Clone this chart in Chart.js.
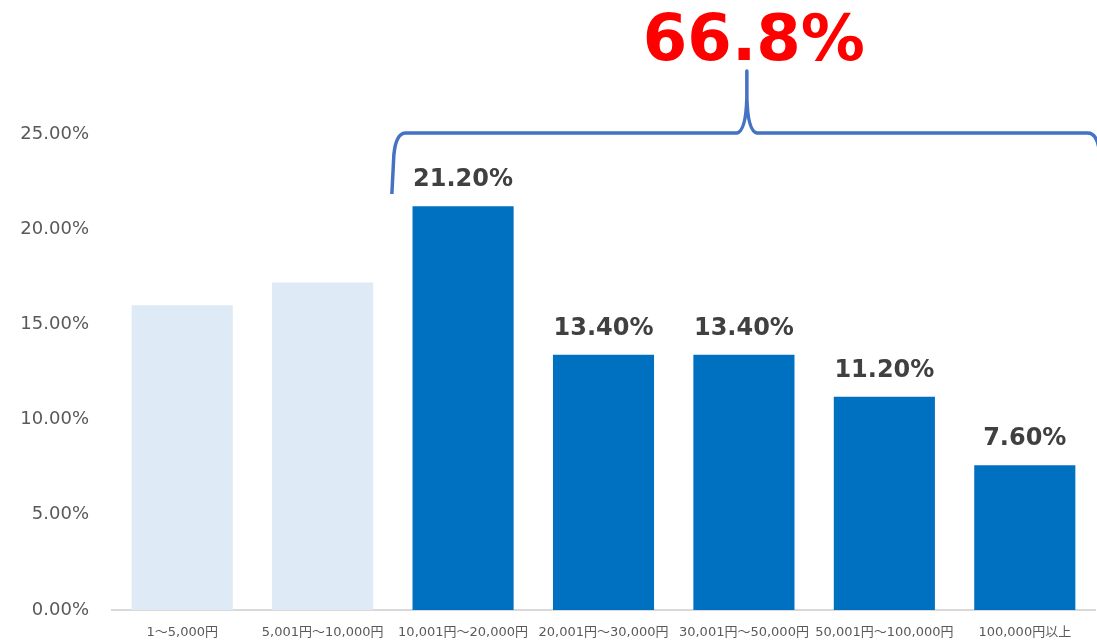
<!DOCTYPE html>
<html>
<head>
<meta charset="utf-8">
<script src="https://cdn.jsdelivr.net/npm/chart.js@4"></script>
<style>
  html, body { margin: 0; padding: 0; background: #fff; }
  #wrap { width: 1097px; height: 642px; position: relative; }
</style>
</head>
<body>
<div id="wrap"><canvas id="chart"></canvas></div>
<script>
// data
const categories = ['1～5,000円', '5,001円～10,000円', '10,001円～20,000円', '20,001円～30,000円',
                    '30,001円～50,000円', '50,001円～100,000円', '100,000円以上'];
const shares = [16.0, 17.2, 21.2, 13.4, 13.4, 11.2, 7.6];
const yTicks = [0, 5, 10, 15, 20, 25];
const highlightFrom = 2; // bars from this index on are grouped by the brace

const totalLabel = shares.slice(highlightFrom).reduce((a, b) => a + b, 0).toFixed(1) + '%';

const LIGHT = '#DEEAF6';
const DARK = '#0070C0';
const FONT = '"DejaVu Sans", "Noto Sans CJK JP", sans-serif';

// value labels above highlighted bars + brace + total
const annotate = {
    id: 'annotate',
    afterDatasetsDraw(chart) {
        const ctx = chart.ctx;
        const bars = chart.getDatasetMeta(0).data;
        const y = chart.scales.y;

        ctx.save();
        ctx.fillStyle = '#404040';
        ctx.font = 'bold 24px ' + FONT;
        ctx.textAlign = 'center';
        ctx.textBaseline = 'alphabetic';
        bars.forEach((bar, i) => {
            if (i < highlightFrom) return;
            ctx.fillText(shares[i].toFixed(2) + '%', bar.x, bar.y - 20);
        });

        // brace
        const left = (bars[highlightFrom - 1].x + bars[highlightFrom].x) / 2 - 1;
        const half = 355;
        const peak = left + half;
        const right = left + half * 2;
        const top = y.getPixelForValue(25) - 1;
        ctx.strokeStyle = '#4472C4';
        ctx.lineWidth = 3.5;
        ctx.lineJoin = 'round';
        ctx.beginPath();
        ctx.moveTo(left, top + 61);
        ctx.lineTo(left + 2, top + 22);
        ctx.quadraticCurveTo(left + 4, top, left + 14, top);
        ctx.lineTo(peak - 10, top);
        ctx.quadraticCurveTo(peak - 1, top - 2, peak, top - 35);
        ctx.lineTo(peak, top - 62);
        ctx.lineTo(peak, top - 35);
        ctx.quadraticCurveTo(peak + 1, top - 2, peak + 10, top);
        ctx.lineTo(right - 14, top);
        ctx.quadraticCurveTo(right - 4, top, right - 2, top + 22);
        ctx.stroke();

        ctx.fillStyle = '#FF0000';
        ctx.font = 'bold 64px ' + FONT;
        ctx.fillText(totalLabel, peak + 7, 60);
        ctx.restore();
    }
};

new Chart(document.getElementById('chart'), {
    type: 'bar',
    data: {
        labels: categories,
        datasets: [{
            data: shares,
            backgroundColor: c => c.dataIndex < highlightFrom ? LIGHT : DARK,
            borderWidth: 0,
            categoryPercentage: 1,
            barPercentage: 0.72
        }]
    },
    options: {
        responsive: true,
        maintainAspectRatio: false,
        animation: false,
        layout: { padding: { top: 134, right: 2, left: 0, bottom: 0 } },
        plugins: {
            legend: { display: false },
            tooltip: { enabled: false }
        },
        scales: {
            x: {
                grid: { display: false, drawTicks: false },
                border: { display: true, color: '#D9D9D9', width: 2 },
                ticks: {
                    color: '#595959',
                    font: { family: FONT, size: 13 },
                    padding: 15,
                    autoSkip: false,
                    maxRotation: 0
                },
                afterFit: s => { s.height = 32; }
            },
            y: {
                min: 0,
                max: 25,
                grid: { display: false, drawTicks: false },
                border: { display: false },
                afterBuildTicks: s => { s.ticks = yTicks.map(v => ({ value: v })); },
                ticks: {
                    color: '#595959',
                    font: { family: FONT, size: 18 },
                    padding: 23,
                    callback: v => v.toFixed(2) + '%'
                },
                afterFit: s => { s.width = 112; s.paddingTop = 0; s.paddingBottom = 0; }
            }
        }
    },
    plugins: [annotate]
});
</script>
</body>
</html>
